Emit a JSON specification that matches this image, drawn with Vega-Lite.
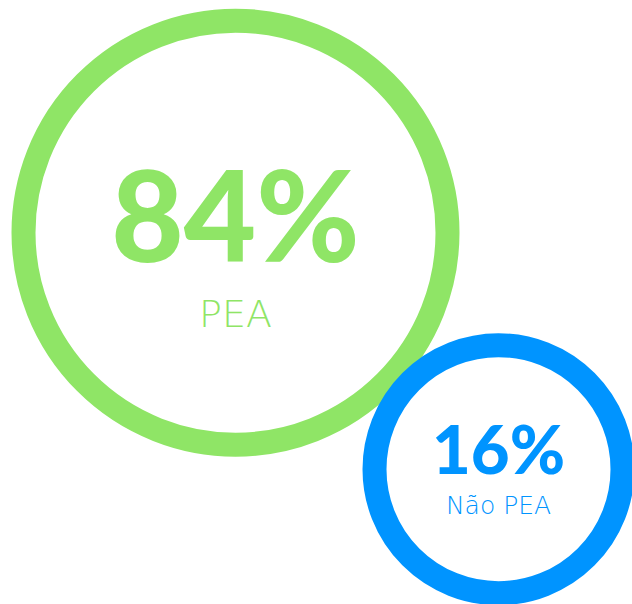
{
  "$schema": "https://vega.github.io/schema/vega-lite/v6.json",
  "width": 632,
  "height": 604,
  "padding": 0,
  "autosize": {"type": "none"},
  "background": "white",
  "config": {"view": {"stroke": null}},
  "data": {
    "values": [
      {"grupo": "PEA", "pct": 84, "percentual": "84%"},
      {"grupo": "Não PEA", "pct": 16, "percentual": "16%"}
    ]
  },
  "resolve": {"scale": {"y": "independent", "size": "independent"}},
  "layer": [
    {
      "mark": {"type": "point", "shape": "circle", "filled": false, "strokeWidth": 24, "opacity": 1},
      "encoding": {
        "x": {"field": "grupo", "type": "nominal", "axis": null, "scale": {"type": "point", "domain": ["PEA", "Não PEA"], "range": [235.5, 498.5], "padding": 0}},
        "y": {"field": "grupo", "type": "nominal", "axis": null, "scale": {"type": "point", "domain": ["PEA", "Não PEA"], "range": [232.7, 469.2], "padding": 0}},
        "size": {"field": "pct", "type": "quantitative", "legend": null, "scale": {"domain": [16, 84], "range": [61504, 179776], "zero": false}},
        "color": {"field": "grupo", "type": "nominal", "legend": null, "scale": {"domain": ["PEA", "Não PEA"], "range": ["#8FE566", "#0094FF"]}}
      }
    },
    {
      "mark": {"type": "text", "font": "Lato", "fontWeight": 900, "align": "center", "baseline": "alphabetic"},
      "encoding": {
        "x": {"field": "grupo", "type": "nominal", "axis": null, "scale": {"type": "point", "domain": ["PEA", "Não PEA"], "range": [236.5, 497.8], "padding": 0}},
        "y": {"field": "grupo", "type": "nominal", "axis": null, "scale": {"type": "point", "domain": ["PEA", "Não PEA"], "range": [262, 474], "padding": 0}},
        "size": {"field": "pct", "type": "quantitative", "legend": null, "scale": {"domain": [16, 84], "range": [67, 125], "zero": false}},
        "text": {"field": "percentual", "type": "nominal"},
        "color": {"field": "grupo", "type": "nominal", "legend": null}
      }
    },
    {
      "mark": {"type": "text", "font": "DejaVu Sans", "fontWeight": 300, "align": "center", "baseline": "alphabetic"},
      "encoding": {
        "x": {"field": "grupo", "type": "nominal", "axis": null, "scale": {"type": "point", "domain": ["PEA", "Não PEA"], "range": [237, 499.5], "padding": 0}},
        "y": {"field": "grupo", "type": "nominal", "axis": null, "scale": {"type": "point", "domain": ["PEA", "Não PEA"], "range": [327, 514], "padding": 0}},
        "size": {"field": "pct", "type": "quantitative", "legend": null, "scale": {"domain": [16, 84], "range": [25, 38], "zero": false}},
        "text": {"field": "grupo", "type": "nominal"},
        "color": {"field": "grupo", "type": "nominal", "legend": null}
      }
    }
  ]
}
